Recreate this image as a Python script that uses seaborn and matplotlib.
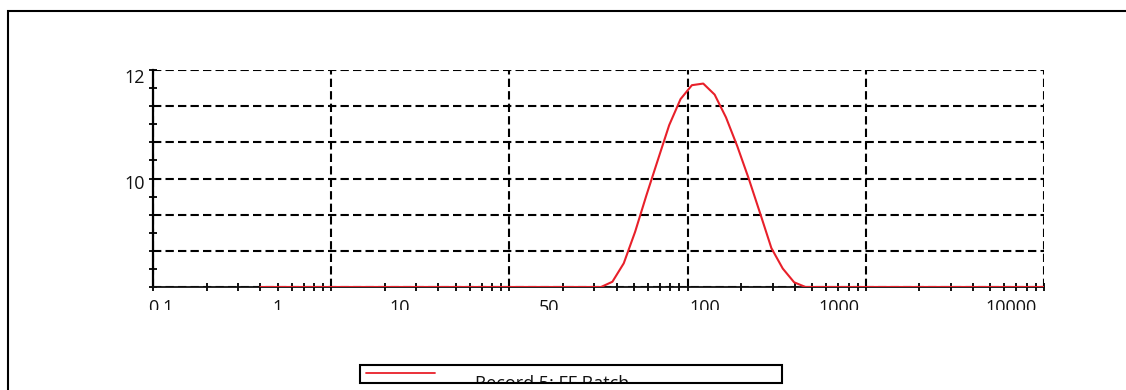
import pandas as pd
import matplotlib
matplotlib.use("Agg")
import matplotlib.pyplot as plt
import seaborn as sns
from matplotlib.patches import Rectangle
from matplotlib.lines import Line2D
from matplotlib.ticker import LogLocator, MultipleLocator, NullFormatter

# Size classes (d.nm) and intensity (%) of the record
size_nm = [0.4, 0.4632, 0.5365, 0.6213, 0.7195, 0.8332, 0.9649, 1.117, 1.294, 1.499,
           1.736, 2.010, 2.328, 2.696, 3.122, 3.615, 4.187, 4.849, 5.615, 6.503,
           7.531, 8.721, 10.10, 11.70, 13.54, 15.69, 18.17, 21.04, 24.36, 28.21,
           32.67, 37.84, 43.82, 50.75, 58.77, 68.06, 78.82, 91.28, 105.7, 122.4,
           141.8, 164.2, 190.1, 220.2, 255.0, 295.3, 342.0, 396.1, 458.7, 531.2,
           615.1, 712.4, 825.0, 955.4, 1106, 1281, 1484, 1718, 1990, 2305,
           2669, 3091, 3580, 4145, 4801, 5560, 6439, 7456, 8635, 10000]
intensity = [0, 0, 0, 0, 0, 0, 0, 0, 0, 0,
             0, 0, 0, 0, 0, 0, 0, 0, 0, 0,
             0, 0, 0, 0, 0, 0, 0, 0, 0, 0,
             0, 0.29, 1.31, 3.05, 5.08, 7.02, 8.95, 10.39, 11.16, 11.25,
             10.64, 9.38, 7.78, 6.00, 4.09, 2.15, 1.02, 0.26, 0, 0,
             0, 0, 0, 0, 0, 0, 0, 0, 0, 0,
             0, 0, 0, 0, 0, 0, 0, 0, 0, 0]
record_name = "Record 5: FF Batch"

# axis labels as they appear in the export (not at their tick values)
x_labels = ["0.1", "1", "10", "50", "100", "1000", "10000"]
y_labels = ["12", "10"]

# label placement in pixels (layout only)
x_label_px = [161, 278, 400, 549, 705, 839, 1011]
y_label_px = [78, 184]

W, H = 1126, 390
RED = "#e8202a"
INK = "#111111"


def fx(x):
    return x / W


def fy(y):
    return 1 - y / H


df = pd.DataFrame({"size": size_nm, "intensity": intensity})

sns.set_style("white")
plt.rcParams["font.family"] = ["Open Sans", "DejaVu Sans"]

fig = plt.figure(figsize=(W / 100, H / 100), dpi=100)
ax = fig.add_axes([fx(153), fy(287), fx(1044 - 153), (287 - 70) / H])

sns.lineplot(data=df, x="size", y="intensity", ax=ax, color=RED,
             linewidth=1.5, zorder=3, label=record_name)
ax.get_legend().remove()

ax.set_xscale("log")
ax.set_xlim(0.1, 10000)
ax.set_ylim(0, 12)
ax.set_xlabel("")
ax.set_ylabel("")

ax.xaxis.set_major_locator(LogLocator(base=10, numticks=10))
ax.xaxis.set_minor_locator(LogLocator(base=10, subs=range(2, 10), numticks=10))
ax.xaxis.set_major_formatter(NullFormatter())
ax.xaxis.set_minor_formatter(NullFormatter())
ax.yaxis.set_major_locator(MultipleLocator(2))
ax.yaxis.set_minor_locator(MultipleLocator(1))
ax.yaxis.set_major_formatter(NullFormatter())

ax.set_axisbelow(True)
ax.grid(True, which="major", color="black", linestyle=(0, (4, 2)), linewidth=1.5)

ax.tick_params(which="both", direction="inout", length=6, width=1.3, color="black",
               bottom=True, left=True, top=False, right=False)
for s in ["top", "right"]:
    ax.spines[s].set_visible(False)
ax.spines["left"].set_color("black")
ax.spines["left"].set_linewidth(1.6)
ax.spines["bottom"].set_color("#111111")
ax.spines["bottom"].set_linewidth(1.3)

# tick labels, cut off at the bottom like in the export
label_clip = Rectangle((0, fy(309.5)), 1, 0.3, transform=fig.transFigure,
                       visible=False)
fig.add_artist(label_clip)
for lab, xp in zip(x_labels, x_label_px):
    t = fig.text(fx(xp), fy(313), lab, ha="center", va="baseline",
                 fontsize=13, color=INK)
    t.set_clip_path(label_clip)
for lab, yp in zip(y_labels, y_label_px):
    fig.text(fx(145), fy(yp), lab, ha="right", va="center",
             fontsize=13, color=INK)

# outer frame (runs off the right and bottom edges)
fig.add_artist(Rectangle((fx(8), -0.5), 2, fy(11) + 0.5, transform=fig.transFigure,
                         fill=False, edgecolor="black", linewidth=1.5))

# legend box
fig.add_artist(Rectangle((fx(360), fy(383)), fx(782 - 360), 18 / H,
                         transform=fig.transFigure, fill=False,
                         edgecolor="black", linewidth=1.5))
fig.add_artist(Line2D([fx(366), fx(435)], [fy(373), fy(373)],
                      transform=fig.transFigure, color=RED, linewidth=1.3))
leg_clip = Rectangle((0, fy(382)), 1, 0.1, transform=fig.transFigure, visible=False)
fig.add_artist(leg_clip)
lt = fig.text(fx(552), fy(389), record_name, ha="center", va="baseline",
              fontsize=13, color=INK)
lt.set_clip_path(leg_clip)

fig.savefig("out.png", dpi=100)
